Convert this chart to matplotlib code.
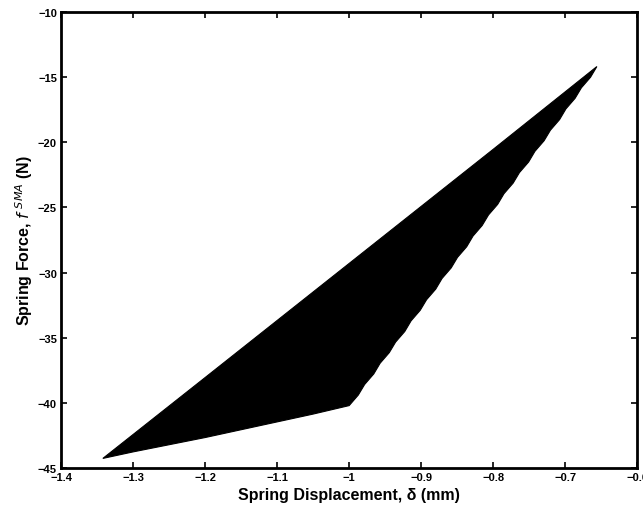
import matplotlib.pyplot as plt
import numpy as np

plt.rcParams['font.family'] = ['Liberation Sans', 'DejaVu Sans']

# outline of the filled hysteresis region (displacement mm, force N)
upper_x = [-1.342, -1.20, -1.00, -0.80, -0.656]
upper_y = [-44.25, -38.05, -29.30, -20.55, -14.2]
# right / lower boundary, read from the top tip back down to the left tip
lower_x = [-0.656, -0.6648, -0.6775, -0.6863, -0.699, -0.7078, -0.7205, -0.7293,
           -0.742, -0.7508, -0.7635, -0.7723, -0.785, -0.7938, -0.8065, -0.8153,
           -0.828, -0.8368, -0.8495, -0.8583, -0.871, -0.8798, -0.8925, -0.9013,
           -0.914, -0.9228, -0.9355, -0.9443, -0.957, -0.9658, -0.9785, -0.9873,
           -1.0, -1.05, -1.10, -1.15, -1.20, -1.25, -1.30, -1.342]
lower_y = [-14.2, -15.02, -15.83, -16.64, -17.45, -18.27, -19.08, -19.89,
           -20.70, -21.52, -22.33, -23.14, -23.95, -24.77, -25.58, -26.39,
           -27.20, -28.02, -28.83, -29.64, -30.45, -31.27, -32.08, -32.89,
           -33.70, -34.52, -35.33, -36.14, -36.95, -37.77, -38.58, -39.39,
           -40.2, -40.85, -41.45, -42.05, -42.65, -43.2, -43.75, -44.25]

xticks = [-1.4, -1.3, -1.2, -1.1, -1.0, -0.9, -0.8, -0.7, -0.6]
xticklabels = ['\u22121.4', '\u22121.3', '\u22121.2', '\u22121.1', '\u22121', '\u22120.9', '\u22120.8', '\u22120.7', '\u22120.6']
yticks = [-45, -40, -35, -30, -25, -20, -15, -10]
yticklabels = ['\u221245', '\u221240', '\u221235', '\u221230', '\u221225', '\u221220', '\u221215', '\u221210']

fig = plt.figure(figsize=(6.43, 5.10), dpi=100)
ax = fig.add_axes([0.095, 0.080, 0.896, 0.895])

px = upper_x + lower_x[1:]
py = upper_y + lower_y[1:]
ax.fill(px, py, color='black', lw=0.8, ec='black')

ax.set_xlim(-1.4, -0.6)
ax.set_ylim(-45, -10)
ax.set_xticks(xticks)
ax.set_xticklabels(xticklabels, fontsize=8, fontweight='bold')
ax.set_yticks(yticks)
ax.set_yticklabels(yticklabels, fontsize=8, fontweight='bold')
ax.tick_params(direction='in', top=True, right=True, length=4, width=1.2, pad=3)
for s in ax.spines.values():
    s.set_linewidth(2)

ax.set_xlabel('Spring Displacement, \u03b4 (mm)', fontsize=11.5, fontweight='bold', labelpad=3)
ax.set_ylabel('Spring Force, $\\mathit{f}^{\\ \\mathit{SMA}}$ (N)', fontsize=11.5, fontweight='bold', labelpad=2)

fig.savefig('out.png', dpi=100)
